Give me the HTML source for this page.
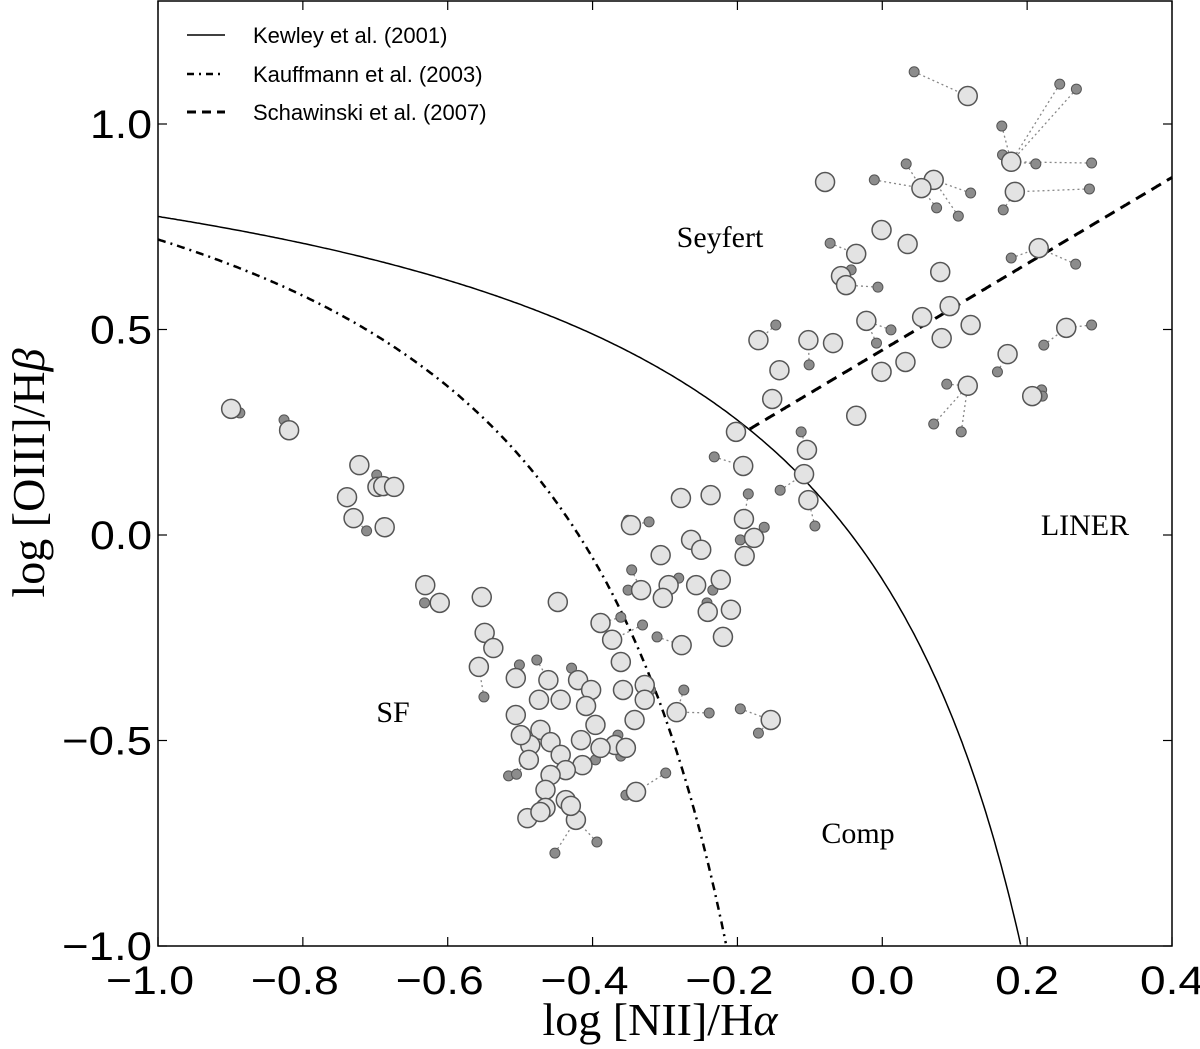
<!DOCTYPE html>
<html><head><meta charset="utf-8">
<style>
html,body{margin:0;padding:0;background:#fff;}
svg{display:block;}
.tick{font-family:"Liberation Sans",sans-serif;font-size:40px;fill:#000;}
.lab{font-family:"Liberation Serif",serif;fill:#000;}
</style></head>
<body>
<svg id="chart" width="1200" height="1049" viewBox="0 0 1200 1049" xmlns="http://www.w3.org/2000/svg">
<g id="links"></g>
<g id="curves"></g>
<g id="pts"></g>
<rect x="158" y="1" width="1014" height="945" fill="none" stroke="#000" stroke-width="1.5"/>
<g id="axes"></g>
<g font-family="Liberation Sans, sans-serif" font-size="22">
  <line x1="187" y1="35" x2="225" y2="35" stroke="#000" stroke-width="1.5"/>
  <text x="253" y="43">Kewley et al. (2001)</text>
  <line x1="187" y1="74" x2="225" y2="74" stroke="#000" stroke-width="2.5" stroke-dasharray="7,5,2,5"/>
  <text x="253" y="82">Kauffmann et al. (2003)</text>
  <line x1="187" y1="112" x2="225" y2="112" stroke="#000" stroke-width="3" stroke-dasharray="9,6"/>
  <text x="253" y="120">Schawinski et al. (2007)</text>
</g>
<text class="lab" x="720" y="247" font-size="30" text-anchor="middle">Seyfert</text>
<text class="lab" x="1085" y="535" font-size="30" text-anchor="middle">LINER</text>
<text class="lab" x="393" y="722" font-size="30" text-anchor="middle">SF</text>
<text class="lab" x="858" y="843" font-size="30" text-anchor="middle">Comp</text>
<text class="lab" x="660" y="1035" font-size="46" text-anchor="middle">log [NII]/H<tspan font-style="italic">α</tspan></text>
<text class="lab" transform="translate(44,473) rotate(-90)" font-size="46" text-anchor="middle">log [OIII]/H<tspan font-style="italic">β</tspan></text>
</svg>
<script>
const bigX=[.118,-.079,.071,.178,.183,-.001,.035,.054,-.036,-.057,-.050,.080,.093,.216,.254,.055,-.022,-.068,-.102,-.171,-.142,-.001,.032,.082,.122,.173,.118,.207,-.036,-.152,-.202,-.104,-.192,-.108,-.102,
-.899,-.819,-.722,-.739,-.730,-.697,-.689,-.674,-.687,-.631,-.611,-.553,-.549,-.537,-.557,
-.448,-.347,-.389,-.373,-.361,-.278,-.237,-.264,-.250,-.306,-.295,-.333,-.257,-.223,-.209,-.241,-.220,-.191,-.177,-.190,-.303,-.277,-.328,-.328,-.284,-.358,-.342,-.369,-.340,-.154,-.506,-.461,-.474,-.444,-.420,-.402,-.409,-.506,-.472,-.486,-.458,-.444,-.416,-.396,-.389,-.414,-.437,-.458,-.488,-.465,-.437,-.465,-.490,-.472,-.423,-.430,-.499,-.354];
const bigY=[1.068,.859,.864,.908,.835,.742,.708,.844,.684,.630,.608,.640,.557,.698,.504,.530,.521,.467,.474,.474,.401,.397,.421,.479,.511,.440,.363,.338,.290,.331,.251,.207,.168,.148,.085,
.307,.255,.170,.092,.041,.117,.119,.117,.019,-.122,-.165,-.151,-.238,-.275,-.321,
-.163,.024,-.214,-.255,-.309,.090,.097,-.012,-.036,-.049,-.122,-.134,-.122,-.109,-.182,-.187,-.248,.039,-.007,-.051,-.153,-.268,-.365,-.401,-.431,-.377,-.450,-.511,-.625,-.450,-.348,-.353,-.401,-.401,-.353,-.377,-.416,-.438,-.474,-.511,-.504,-.535,-.499,-.462,-.518,-.560,-.572,-.584,-.547,-.620,-.645,-.664,-.689,-.674,-.693,-.659,-.487,-.518];
const smallX=[.044,.245,.268,.165,.166,.212,.289,.286,.033,-.011,.105,.167,.075,.122,-.072,-.043,-.006,.012,-.008,.178,.267,.289,.223,.220,.221,.159,.089,.109,.071,-.147,-.101,-.112,-.232,-.141,-.185,-.093,
-.887,-.826,-.741,-.712,-.698,-.632,-.550,
-.351,-.322,-.346,-.351,-.281,-.234,-.242,-.196,-.195,-.163,-.311,-.331,-.361,-.320,-.299,-.354,-.394,-.452,-.239,-.196,-.171,-.274,-.501,-.477,-.429,-.516,-.505,-.396,-.361,-.365];
const smallY=[1.127,1.097,1.085,.995,.925,.903,.905,.842,.903,.864,.776,.791,.796,.832,.710,.645,.603,.499,.467,.674,.659,.511,.462,.353,.338,.397,.367,.251,.270,.511,.414,.251,.190,.109,.100,.022,
.297,.280,.102,.010,.146,-.165,-.394,
.036,.032,-.085,-.134,-.105,-.134,-.165,-.012,-.056,.019,-.248,-.219,-.200,-.377,-.579,-.633,-.747,-.774,-.433,-.423,-.482,-.377,-.316,-.304,-.324,-.586,-.582,-.547,-.538,-.487];
const xTicks=[-1.0,-0.8,-0.6,-0.4,-0.2,0.0,0.2,0.4];
const yTicks=[-1.0,-0.5,0.0,0.5,1.0];

const NS="http://www.w3.org/2000/svg";
const L=158,R=1172,T=1,B=946;
const sx=v=>L+(v+1)*(R-L)/1.4;
const sy=v=>535-v*411;
function mk(tag,attrs,parent){const e=document.createElementNS(NS,tag);for(const k in attrs)e.setAttribute(k,attrs[k]);parent.appendChild(e);return e;}
const gL=document.getElementById('links'),gC=document.getElementById('curves'),gP=document.getElementById('pts'),gA=document.getElementById('axes');

function curve(f,x0,x1,attrs,name){let d='';let first=true;for(let i=0;i<=400;i++){const x=x0+(x1-x0)*i/400;const y=f(x);if(y<-1.0||y>1.3)continue;d+=(first?'M':'L')+sx(x).toFixed(1)+','+sy(y).toFixed(1);first=false;}
const p=mk('path',Object.assign({d:d,fill:'none',stroke:'#000'},attrs),gC);

}
curve(x=>0.61/(x-0.47)+1.19,-1,0.2,{'stroke-width':1.5},'kewley-curve');
curve(x=>0.61/(x-0.05)+1.3,-1,-0.2,{'stroke-width':2.5,'stroke-dasharray':'8,5,2,5'},'kauffmann-curve');
curve(x=>1.05*x+0.45,-0.183,0.4,{'stroke-width':3,'stroke-dasharray':'11,7'},'schawinski-line');

for(let i=0;i<smallX.length;i++){let bi=0,bd=1e9;for(let j=0;j<bigX.length;j++){const d=(sx(smallX[i])-sx(bigX[j]))**2+(sy(smallY[i])-sy(bigY[j]))**2;if(d<bd&&d>0){bd=d;bi=j;}}
const l=mk('line',{x1:sx(smallX[i]),y1:sy(smallY[i]),x2:sx(bigX[bi]),y2:sy(bigY[bi]),stroke:'#888','stroke-width':1.3,'stroke-dasharray':'2,3'},gL);

}

for(let i=0;i<smallX.length;i++){const c=mk('circle',{cx:sx(smallX[i]),cy:sy(smallY[i]),r:5,fill:'#8c8c8c',stroke:'#555','stroke-width':1},gP);

}
for(let i=0;i<bigX.length;i++){const c=mk('circle',{cx:sx(bigX[i]),cy:sy(bigY[i]),r:9.5,fill:'#e3e3e3',stroke:'#555','stroke-width':1.5},gP);

}

for(const v of xTicks){const x=sx(v);
mk('line',{x1:x,y1:B,x2:x,y2:B-9,stroke:'#000','stroke-width':1.2},gA);
mk('line',{x1:x,y1:T,x2:x,y2:T+9,stroke:'#000','stroke-width':1.2},gA);
const s=(v<0?'\u2212':'')+Math.abs(v).toFixed(1);
const t=mk('text',{x:x-(v<0?8:0),y:B+48,'text-anchor':'middle',class:'tick',textLength:(v<0?88:64),lengthAdjust:'spacingAndGlyphs'},gA);
t.textContent=s;

}
for(const v of yTicks){const y=sy(v);
mk('line',{x1:L,y1:y,x2:L+9,y2:y,stroke:'#000','stroke-width':1.2},gA);
mk('line',{x1:R,y1:y,x2:R-9,y2:y,stroke:'#000','stroke-width':1.2},gA);
const t=mk('text',{x:L-6,y:y+14,'text-anchor':'end',class:'tick',textLength:(v<0?90:62),lengthAdjust:'spacingAndGlyphs'},gA);
t.textContent=(v<0?'\u2212':'')+Math.abs(v).toFixed(1);

}
</script>
</body></html>
